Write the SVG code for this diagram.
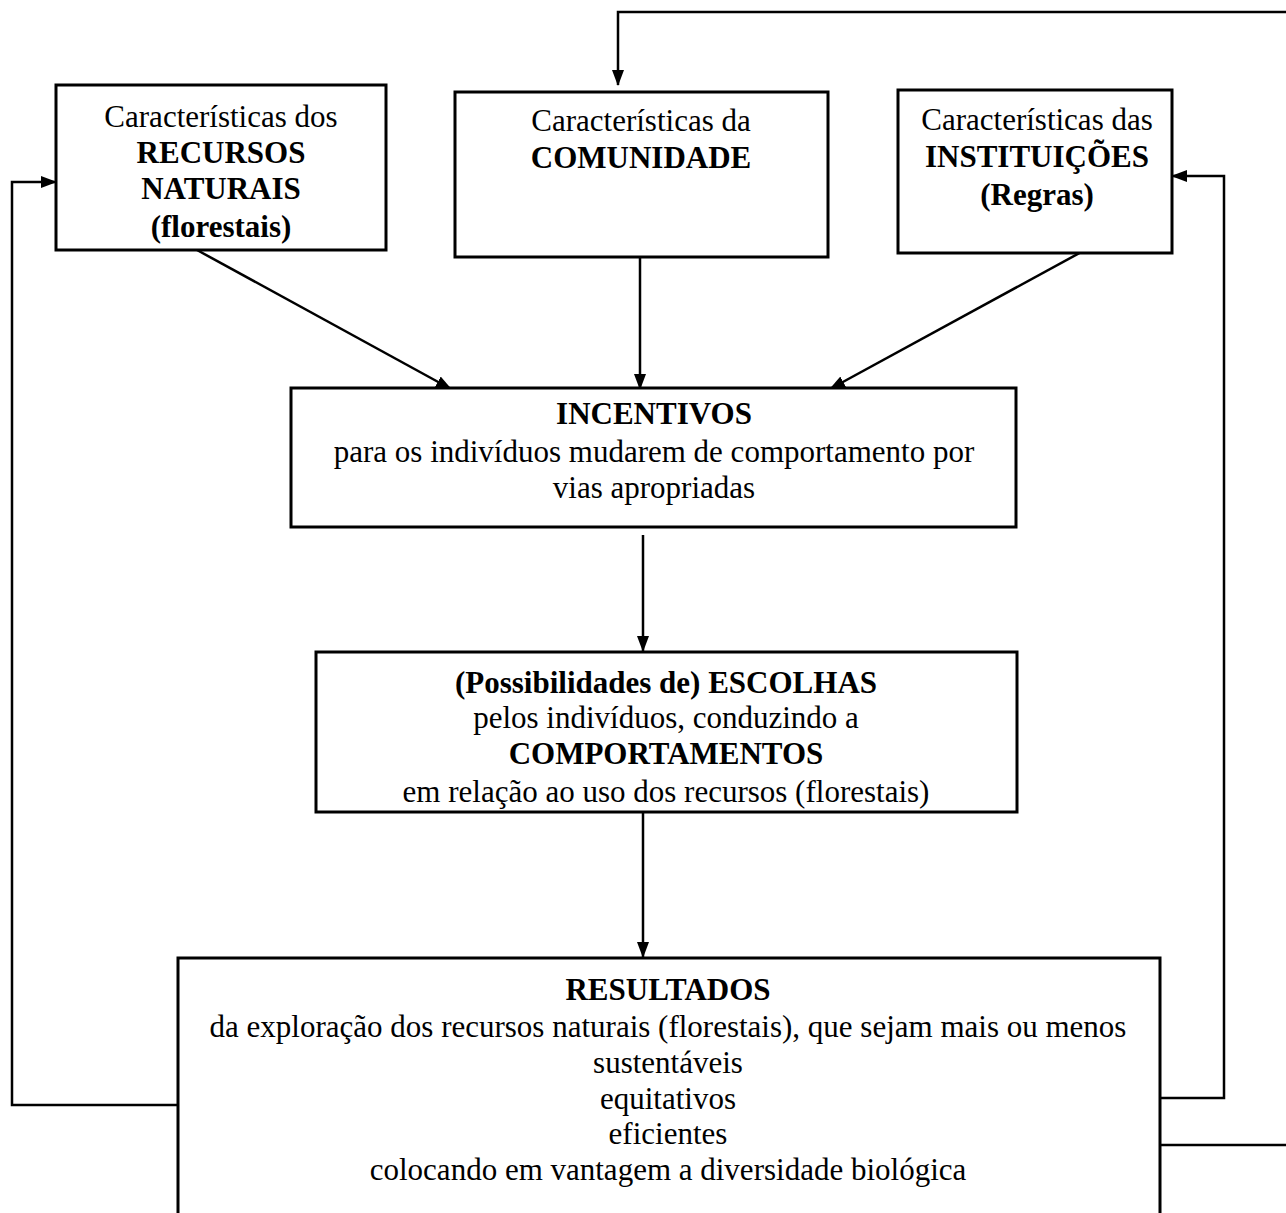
<svg xmlns="http://www.w3.org/2000/svg" width="1286" height="1213" viewBox="0 0 1286 1213">
<defs>
<marker id="ah" markerWidth="16" markerHeight="12" refX="15" refY="6" orient="auto" markerUnits="userSpaceOnUse">
<path d="M0,0 L16,6 L0,12 Z" fill="#000"/>
</marker>
<style>
.box{fill:#fff;stroke:#000;stroke-width:3}
.c{fill:none;stroke:#000;stroke-width:2.5}
text{font-family:"Liberation Serif","Times New Roman",serif;font-size:31px;fill:#000;text-anchor:middle}
.b{font-weight:bold}
</style>
</defs>
<rect width="1286" height="1213" fill="#fff"/>
<g id="connectors">
<path class="c" d="M1286,12 L618,12 L618,85" marker-end="url(#ah)"/>
<path class="c" d="M178,1105 L12,1105 L12,182 L56,182" marker-end="url(#ah)"/>
<path class="c" d="M1160,1098 L1224,1098 L1224,176 L1172,176" marker-end="url(#ah)"/>
<path class="c" d="M1160,1145 L1286,1145"/>
<path class="c" d="M197,250 L451,389" marker-end="url(#ah)"/>
<path class="c" d="M640,257 L640,389" marker-end="url(#ah)"/>
<path class="c" d="M1085,250 L830,389" marker-end="url(#ah)"/>
<path class="c" d="M643,535 L643,651" marker-end="url(#ah)"/>
<path class="c" d="M643,812 L643,957" marker-end="url(#ah)"/>
</g>
<g id="recursos">
<rect class="box" x="56" y="85" width="330" height="165"/>
<text x="221" y="127">Características dos</text>
<text x="221" y="163" class="b">RECURSOS</text>
<text x="221" y="199" class="b">NATURAIS</text>
<text x="221" y="237" class="b">(florestais)</text>
</g>
<g id="comunidade">
<rect class="box" x="455" y="92" width="373" height="165"/>
<text x="641" y="131">Características da</text>
<text x="641" y="168" class="b">COMUNIDADE</text>
</g>
<g id="instituicoes">
<rect class="box" x="898" y="90" width="274" height="163"/>
<text x="1037" y="130">Características das</text>
<text x="1037" y="167" class="b">INSTITUIÇÕES</text>
<text x="1037" y="205" class="b">(Regras)</text>
</g>
<g id="incentivos">
<rect class="box" x="291" y="388" width="725" height="139"/>
<text x="654" y="424" class="b">INCENTIVOS</text>
<text x="654" y="462">para os indivíduos mudarem de comportamento por</text>
<text x="654" y="498">vias apropriadas</text>
</g>
<g id="escolhas">
<rect class="box" x="316" y="652" width="701" height="160"/>
<text x="666" y="693" class="b">(Possibilidades de) ESCOLHAS</text>
<text x="666" y="728">pelos indivíduos, conduzindo a</text>
<text x="666" y="764" class="b">COMPORTAMENTOS</text>
<text x="666" y="802">em relação ao uso dos recursos (florestais)</text>
</g>
<g id="resultados">
<path class="box" d="M178,1216 L178,958 L1160,958 L1160,1216"/>
<text x="668" y="1000" class="b">RESULTADOS</text>
<text x="668" y="1037">da exploração dos recursos naturais (florestais), que sejam mais ou menos</text>
<text x="668" y="1073">sustentáveis</text>
<text x="668" y="1109">equitativos</text>
<text x="668" y="1144">eficientes</text>
<text x="668" y="1180">colocando em vantagem a diversidade biológica</text>
</g>
</svg>
